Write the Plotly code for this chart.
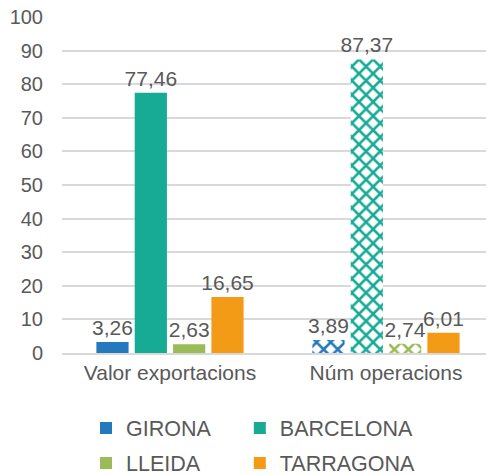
import plotly.graph_objects as go

categories = ["Valor exportacions", "Núm operacions"]
series_names = ["GIRONA", "BARCELONA", "LLEIDA", "TARRAGONA"]
girona = [3.26, 3.89]
barcelona = [77.46, 87.37]
lleida = [2.63, 2.74]
tarragona = [16.65, 6.01]
y_ticks = list(range(0, 101, 10))

values = [girona, barcelona, lleida, tarragona]
colors = ["#2479BD", "#17AB96", "#9BBB59", "#F39A17"]
patterns = [["", "x"], ["", "x"], ["", "x"], ["", ""]]
legend_ids = ["legend", "legend2", "legend3", "legend4"]
legend_xy = [(0.1605, 0.1006), (0.477, 0.1006), (0.1605, 0.0257), (0.477, 0.0257)]

FONT = "Liberation Sans, Arial, sans-serif"
GRAY = "#595959"

fig = go.Figure()
for name, vals, col, pat, lg in zip(series_names, values, colors, patterns, legend_ids):
    fig.add_trace(go.Bar(
        x=categories, y=vals, name=name,
        marker=dict(color=col, line=dict(width=0),
                    pattern=dict(shape=pat, fgcolor=col, bgcolor="white",
                                 size=10, solidity=0.45, fillmode="replace")),
        text=vals, texttemplate="%{y:.2f}", textposition="outside",
        constraintext="none",
        textfont=dict(family=FONT, size=21, color=GRAY),
        cliponaxis=False, legend=lg, showlegend=True,
    ))

legend_common = dict(orientation="h", xref="container", yref="container",
                     xanchor="left", yanchor="middle",
                     font=dict(family=FONT, size=21.5, color=GRAY),
                     bgcolor="rgba(0,0,0,0)", itemclick=False)

legend_layout = {lg: dict(x=x, y=y, **legend_common)
                 for lg, (x, y) in zip(legend_ids, legend_xy)}

fig.update_layout(
    width=486, height=467,
    showlegend=True,
    margin=dict(l=54, r=0, t=9, b=122, autoexpand=False),
    paper_bgcolor="white", plot_bgcolor="white",
    separators=",.",
    barmode="group", bargap=0.29, bargroupgap=0.16,
    font=dict(family=FONT, size=20, color=GRAY),
    xaxis=dict(showline=True, linecolor="#D9D9D9", linewidth=1.5,
               tickfont=dict(family=FONT, size=21, color=GRAY), ticks=""),
    yaxis=dict(range=[0, 100], tickvals=y_ticks, showgrid=True, gridcolor="#D9D9D9",
               gridwidth=1.5, zeroline=False, showline=False,
               tickfont=dict(family=FONT, size=20, color=GRAY),
               ticklabeloverflow="allow",
               ticks="outside", ticklen=14, tickcolor="rgba(0,0,0,0)"),
    **legend_layout,
)

fig.write_html("out.html")
